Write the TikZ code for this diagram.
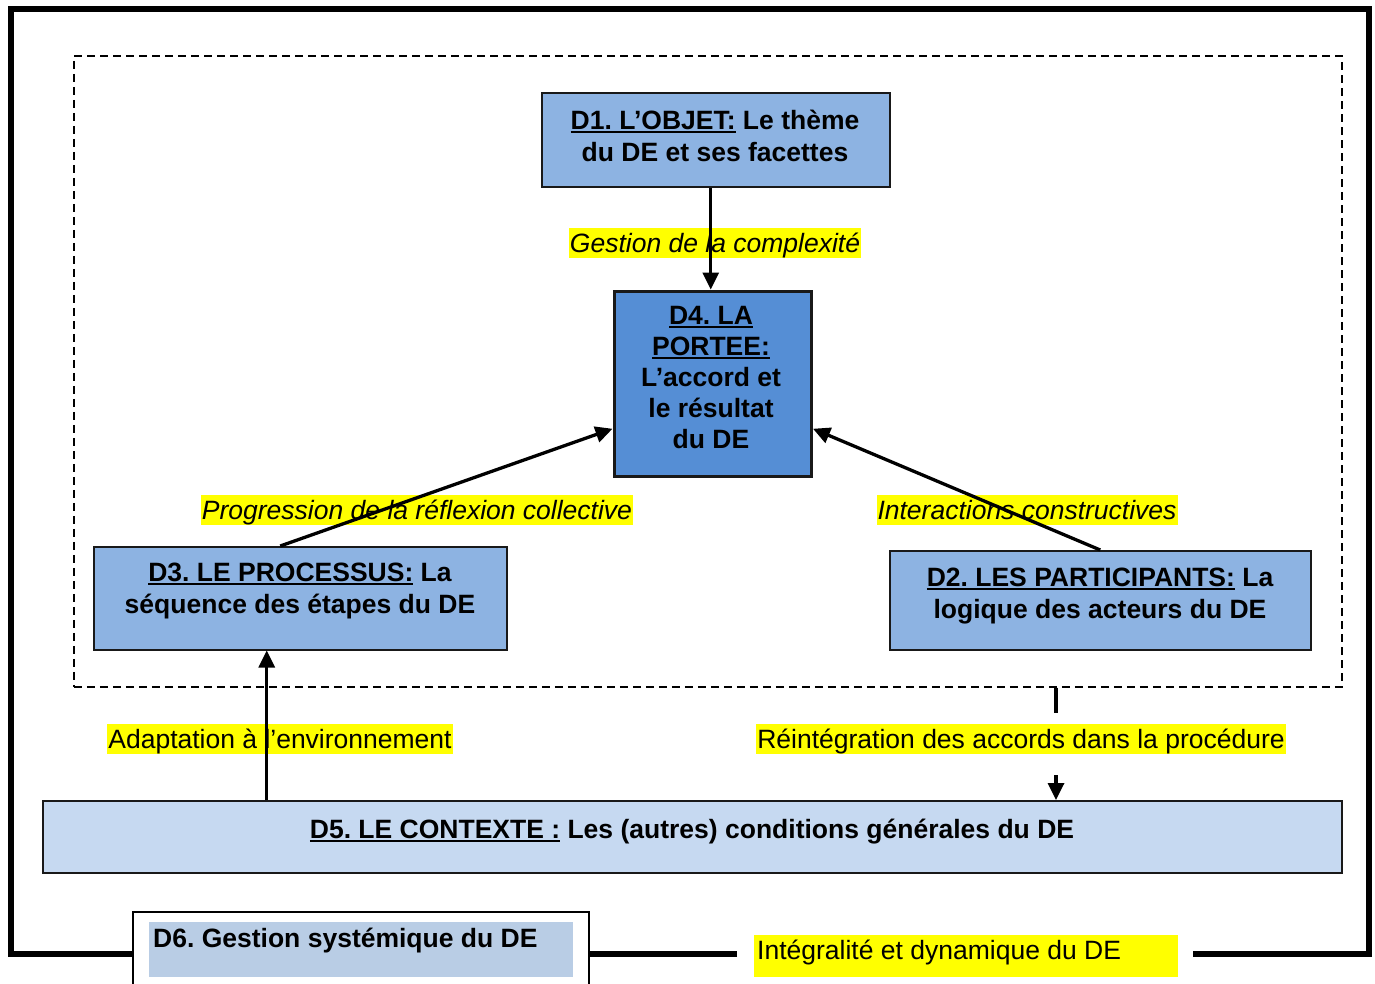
\documentclass[tikz,border=0pt]{standalone}
\usepackage{fontspec}
\setmainfont{Liberation Sans}
\usetikzlibrary{arrows.meta,calc}
\definecolor{boxblue}{HTML}{8DB3E2}
\definecolor{darkblue}{HTML}{558ED5}
\definecolor{paleblue}{HTML}{C6D9F1}
\definecolor{grayblue}{HTML}{B9CDE5}
\definecolor{hl}{HTML}{FFFF00}
\frenchspacing
\newcommand\uln[1]{\setbox0\hbox{#1}\rlap{\rule[-3.5pt]{\wd0}{2pt}}\box0\relax}
\begin{document}
\begin{tikzpicture}[x=1pt,y=-1pt,
  box/.style={draw=black!90, line width=1.5pt, fill=boxblue, inner sep=0, anchor=north west},
  btxt/.style={font=\fontsize{26.5}{32}\selectfont\bfseries, align=center, inner sep=0, anchor=base},
  lab/.style={fill=hl, inner xsep=1pt, inner ysep=0pt, text height=24pt, text depth=5.6pt},
  ilab/.style={lab, font=\fontsize{26.5}{31}\selectfont\itshape},
  rlab/.style={lab, font=\fontsize{26.5}{31}\selectfont},
  arr/.style={line width=3.3pt, -{Triangle[length=17pt,width=16pt]}},
  plain/.style={line width=3.3pt}]
\useasboundingbox (0,0) rectangle (1375,983);
\clip (0,0) rectangle (1375,983);
\fill[white] (0,0) rectangle (1375,983);

% outer frame
\draw[line width=6pt, line join=miter] (737,954) -- (11,954) -- (11,9) -- (1369,9) -- (1369,954) -- (1193,954);

% dashed zone
\node[draw, line width=1.5pt, dash pattern=on 8pt off 5pt, minimum width=1268, minimum height=631, anchor=north west, inner sep=0] (zone) at (73,55) {};

% boxes
\node[box, minimum width=348, minimum height=94] (d1) at (541,92) {};
\node[btxt] (d1t) at (715,161) {\uln{D1. L’OBJET:} Le thème\\du DE et ses facettes};

\node[box, fill=darkblue, line width=3.5pt, minimum width=197, minimum height=185] (d4) at (612.5,289.5) {};
\node[btxt, font=\fontsize{26.5}{31}\selectfont\bfseries] (d4t) at (711,448) {\uln{D4. LA}\\\uln{PORTEE:}\\L’accord et\\le résultat\\du DE};

\node[box, minimum width=413, minimum height=103] (d3) at (93,546) {};
\node[btxt] (d3t) at (300,613.5) {\uln{D3. LE PROCESSUS:} La\\séquence des étapes du DE};

\node[box, minimum width=421, minimum height=99] (d2) at (889,550) {};
\node[btxt] (d2t) at (1100,618) {\uln{D2. LES PARTICIPANTS:} La\\logique des acteurs du DE};

\node[box, fill=paleblue, minimum width=1299, minimum height=72] (d5) at (42,800) {};
\node[btxt] (d5t) at (692,838) {\uln{D5. LE CONTEXTE :} Les (autres) conditions générales du DE};

% D6
\node[draw, line width=2pt, fill=white, minimum width=456, minimum height=110, anchor=north west, inner sep=0] (d6) at (132,911) {};
\node[fill=grayblue, minimum width=424, minimum height=55, anchor=north west, inner sep=0] (d6in) at (149,922) {};
\node[btxt, anchor=base west] (d6t) at (153,947) {D6. Gestion systémique du DE};

% Intégralité
\node[fill=hl, minimum width=424, minimum height=42, anchor=north west, inner sep=0] (integ) at (754,935) {};
\node[btxt, font=\fontsize{26.5}{31}\selectfont, anchor=base west] (integt) at (757,959.5) {Intégralité et dynamique du DE};

% labels
\node[ilab] (l1) at (715,243) {Gestion de la complexité};
\node[ilab] (l2) at (417,510) {Progression de la réflexion collective};
\node[ilab] (l3) at (1027,510) {Interactions constructives};
\node[rlab] (l4) at (280,739) {Adaptation à l’environnement};
\node[rlab] (l5) at (1021,739) {Réintégration des accords dans la procédure};

% connectors
\draw[arr] ([xshift=-2pt]d4.north |- d1.south) -- ([xshift=-2pt]d4.north);
\draw[arr] ([xshift=-20pt]d3.north) -- ([yshift=-45pt]d4.west);
\draw[arr] (d2.north) -- ([yshift=-45pt]d4.east);
\draw[arr] ([xshift=-33.5pt]d3.south |- d5.north) -- ([xshift=-33.5pt]d3.south);
\coordinate (r1) at (1056,713);
\coordinate (r2) at (1056,775);
\draw[plain] (r1 |- zone.south) -- (r1);
\draw[arr] (r2) -- (r2 |- d5.north);
\end{tikzpicture}
\end{document}
